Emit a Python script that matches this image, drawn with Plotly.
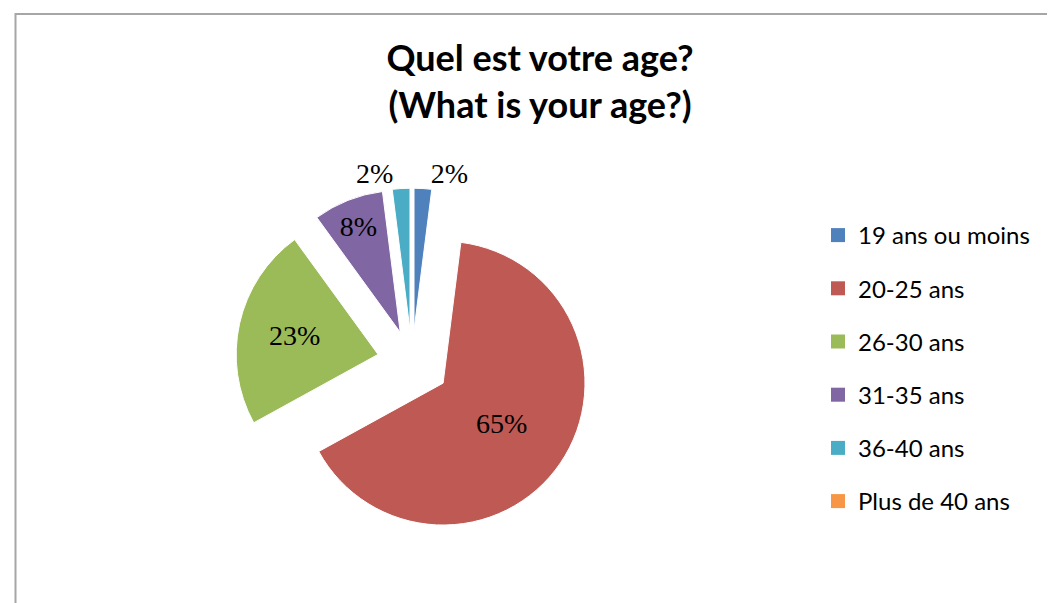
import plotly.graph_objects as go

# ---- data ----
labels = ["19 ans ou moins", "20-25 ans", "26-30 ans", "31-35 ans", "36-40 ans", "Plus de 40 ans"]
values = [2, 65, 23, 8, 2, 0]
colors = ["#4F81BD", "#BE5953", "#9BBB59", "#8066A2", "#4BACC6", "#F79646"]
label_pos = ["outside", "inside", "inside", "inside", "outside", "none"]
pulls = [0.225, 0.265, 0.245, 0.225, 0.225, 0.225]
title_lines = ["Quel est votre age?", "(What is your age?)"]

W, H = 1055, 603

# pie box (pixels) -> paper domain
cx, cy, box = 404, 354, 359

fig = go.Figure()
fig.add_trace(go.Pie(
    labels=labels, values=values, sort=False, direction="clockwise", rotation=0,
    marker=dict(colors=colors, line=dict(color="white", width=1)),
    pull=pulls, textposition=label_pos, texttemplate="%{percent:.0%}",
    insidetextorientation="horizontal",
    textfont=dict(family="Liberation Serif", size=28, color="black"),
    domain=dict(x=[(cx - box / 2) / W, (cx + box / 2) / W],
                y=[1 - (cy + box / 2) / H, 1 - (cy - box / 2) / H]),
    showlegend=False,
))

for lab, col in zip(labels, colors):
    fig.add_trace(go.Scatter(
        x=[None], y=[None], mode="markers", name=lab, legendgroup=lab,
        marker=dict(symbol="square", size=14, color=col), hoverinfo="skip",
    ))

fig.add_shape(type="rect", xref="paper", yref="paper",
              x0=7.5 / W, x1=1.05, y0=-0.05, y1=1 - 6 / H,
              line=dict(color="#A6A6A6", width=2), layer="above")

fig.update_layout(
    width=W, height=H,
    margin=dict(l=0, r=0, t=0, b=0),
    paper_bgcolor="white", plot_bgcolor="white",
    title=dict(text="<br>".join(title_lines), x=532 / W, xanchor="center",
               y=1 - 63 / H, yanchor="top",
               font=dict(family="Lato", size=36, color="black", weight="bold")),
    xaxis=dict(visible=False), yaxis=dict(visible=False),
    legend=dict(x=810 / W, y=1 - 205 / H, xanchor="left", yanchor="top",
                tracegroupgap=19, font=dict(family="Lato", size=24, color="black"),
                bgcolor="rgba(0,0,0,0)"),
)

fig.write_html("out.html")
